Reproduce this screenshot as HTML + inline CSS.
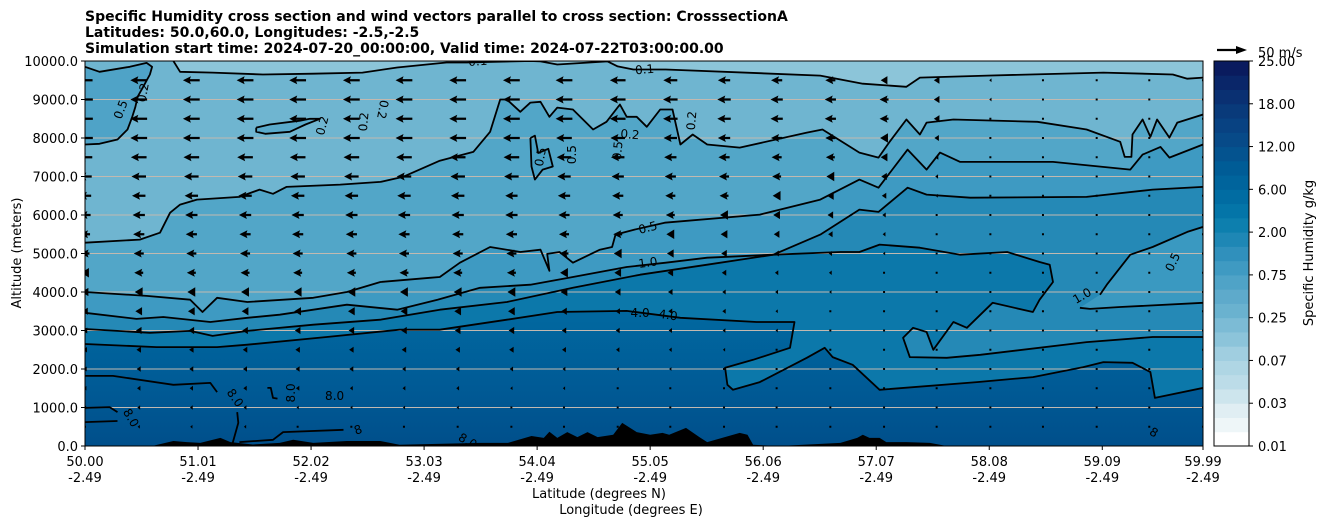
<!DOCTYPE html>
<html><head><meta charset="utf-8">
<style>
body{margin:0;background:#fff;width:1326px;height:526px;overflow:hidden}
svg{display:block;font-family:"DejaVu Sans","Liberation Sans",sans-serif}
</style></head>
<body>
<svg id="chart" width="1326" height="526" viewBox="0 0 1326 526" xmlns="http://www.w3.org/2000/svg">
<defs>
<clipPath id="plotclip"><rect x="85" y="61" width="1118" height="385"/></clipPath>
<linearGradient id="lowgrad" gradientUnits="userSpaceOnUse" x1="0" y1="320" x2="0" y2="446">
<stop offset="0" stop-color="#01679f"/><stop offset="0.5" stop-color="#005b96"/><stop offset="1" stop-color="#004f8b"/>
</linearGradient>
</defs>
<g font-size="14" font-weight="bold" fill="#000">
<text x="85" y="21">Specific Humidity cross section and wind vectors parallel to cross section: CrosssectionA</text>
<text x="85" y="37">Latitudes: 50.0,60.0, Longitudes: -2.5,-2.5</text>
<text x="85" y="53">Simulation start time: 2024-07-20_00:00:00, Valid time: 2024-07-22T03:00:00.00</text>
</g>
<g id="fills" clip-path="url(#plotclip)"></g>
<g id="grid"></g>
<g id="lines" clip-path="url(#plotclip)"></g>
<g id="clabels" clip-path="url(#plotclip)" font-size="12" fill="#000"></g>
<g id="arrows" clip-path="url(#plotclip)"></g>
<rect x="85" y="61" width="1118" height="385" fill="none" stroke="#000" stroke-width="1"/>
<g id="xaxis" font-size="13"></g>
<g id="yaxis" font-size="13"></g>
<text x="599" y="498" font-size="13" text-anchor="middle">Latitude (degrees N)</text>
<text x="631" y="514" font-size="13" text-anchor="middle">Longitude (degrees E)</text>
<text transform="translate(21,253) rotate(-90)" font-size="13" text-anchor="middle">Altitude (meters)</text>
<g id="cbar" font-size="13"></g>
<text transform="translate(1313,253) rotate(-90)" font-size="13" text-anchor="middle">Specific Humidity g/kg</text>
<g>
<line x1="1217" y1="50" x2="1238" y2="50" stroke="#000" stroke-width="2.2"/>
<polygon points="1247,50 1236,46 1236,54" fill="#000"/>
<text x="1258" y="57" font-size="13">50 m/s</text>
</g>
</svg>
<script>
// ---- data ----
const xTickLats = [50.00,51.01,52.02,53.03,54.04,55.05,56.06,57.07,58.08,59.09,59.99];
const xTickLabels = ["50.00","51.01","52.02","53.03","54.04","55.05","56.06","57.07","58.08","59.09","59.99"];
const xTickLons = ["-2.49","-2.49","-2.49","-2.49","-2.49","-2.49","-2.49","-2.49","-2.49","-2.49","-2.49"];
const yTickAlts = [0,1000,2000,3000,4000,5000,6000,7000,8000,9000,10000];
const cbarTickLabels = ["0.01","0.03","0.07","0.25","0.75","2.00","6.00","12.00","18.00","25.00"];
const cbarTickLevelIdx = [0,3,6,9,12,15,18,21,24,27];
const cbarBandColors = ["#ffffff","#eef6f8","#e0eef3","#cde5ed","#bcdce8","#afd6e4","#a0cee0","#8cc4da","#7cbbd5","#6ab2cf","#5eaacb","#4fa3c7","#3f9ac2","#3090bc","#1e87b5","#0d7fae","#0475a8","#016ca2","#00649c","#005c96","#04538f","#074a88","#084282","#093a7a","#0a3072","#0a2669","#0a1b5e"];

// contour lines: [lat, altitude m]
const c01 = [[50.79,10000],[50.85,9720],[51.14,9700],[51.59,9650],[52.04,9670],[52.48,9700],[52.79,9830],[53.23,9960],[53.41,9960],[53.98,10000],[54.07,9990],[54.22,9910],[54.67,9990],[54.76,9860],[54.90,9780],[55.19,9780],[56.57,9620],[56.95,9410],[57.34,9330],[57.46,9570],[58.06,9620],[59.10,9700],[59.72,9650],[59.85,9540],[59.99,9570]];
const c02pocket = [[50.00,9850],[50.13,9720],[50.40,9850],[50.55,9950],[50.60,9850],[50.58,9650],[50.52,9330],[50.47,9070],[50.45,8810],[50.42,8530],[50.38,8220],[50.29,7960],[50.13,7850],[50.00,7830]];
const c02 = [[50.00,5280],[50.49,5360],[50.67,5540],[50.76,6060],[50.85,6270],[51.00,6400],[51.38,6470],[51.56,6660],[51.68,6550],[51.80,6730],[52.28,6790],[52.64,6860],[52.84,6990],[53.17,7410],[53.47,7640],[53.62,8160],[53.71,9000],[53.77,9000],[53.89,8680],[53.98,8920],[54.07,8940],[54.15,8550],[54.22,8790],[54.36,8740],[54.54,8220],[54.66,8420],[54.78,8870],[54.84,8550],[54.93,8550],[55.02,8290],[55.14,8740],[55.25,8740],[55.32,7830],[55.43,8090],[55.56,7830],[55.85,7750],[56.45,8140],[56.59,8220],[56.92,7620],[57.09,7490],[57.19,7900],[57.34,8480],[57.46,8090],[57.52,8400],[57.76,8480],[58.51,8420],[58.95,8220],[59.25,7900],[59.29,7510],[59.35,7510],[59.36,8090],[59.45,8480],[59.52,8030],[59.58,8480],[59.69,8010],[59.76,8400],[59.99,8610]];
const c02loop = [[51.53,8270],[51.65,8350],[51.92,8450],[52.01,8500],[52.10,8500],[51.97,8350],[51.83,8160],[51.61,8110],[51.53,8160],[51.53,8270]];
const c05loop = [[53.98,8000],[54.02,8060],[54.05,7610],[54.14,7720],[54.18,7260],[54.09,7180],[54.02,6920],[53.99,7260],[53.98,8000]];
const c05 = [[50.00,4000],[50.55,3900],[50.94,3800],[51.05,3480],[51.18,3850],[51.45,3740],[52.04,3850],[52.34,4000],[52.64,4260],[53.08,4370],[53.17,4390],[53.35,4760],[53.62,5170],[53.89,5040],[54.07,5100],[54.15,4550],[54.13,4990],[54.24,5040],[54.36,4760],[54.60,5100],[54.71,5170],[54.74,5490],[54.91,5620],[55.18,5800],[56.03,6010],[56.57,6400],[56.92,6920],[57.09,6710],[57.35,7700],[57.52,7180],[57.64,7620],[57.82,7380],[58.65,7380],[59.34,7180],[59.45,7570],[59.61,7770],[59.69,7490],[59.99,7830]];
const c10 = [[50.00,3460],[50.46,3300],[50.70,3350],[51.12,3220],[51.45,3330],[51.74,3410],[52.34,3670],[52.79,3540],[53.15,3800],[53.53,4110],[53.98,4190],[54.36,4390],[54.84,4650],[55.19,4760],[55.56,4890],[56.15,4970],[56.57,5490],[56.92,6140],[57.09,6080],[57.35,6710],[57.52,6530],[57.91,6450],[58.95,6470],[59.54,6660],[59.99,6730]];
const c05right = [[59.07,3930],[59.13,4190],[59.34,4970],[59.54,5170],[59.85,5560],[59.99,5690]];
const c10right = [[58.89,3590],[58.98,3560],[59.25,3610],[59.99,3720]];
const c20 = [[50.00,3040],[50.58,2940],[50.94,2990],[51.14,2860],[51.45,2990],[52.04,3150],[52.64,3280],[53.17,3540],[53.77,3740],[54.36,4110],[54.96,4450],[55.56,4710],[56.15,4970],[56.75,5040],[56.92,5040],[57.10,5230],[57.46,5150],[57.82,4970],[58.24,5040],[58.53,4780],[58.62,4710],[58.65,4260],[58.53,3800],[58.47,3480],[58.11,3720],[57.88,3070],[57.76,3220],[57.58,2500],[57.52,2960],[57.40,3070],[57.31,2810],[57.37,2310],[57.70,2290],[58.00,2370],[58.95,2700],[59.54,2830],[59.99,2830]];
const c40 = [[50.00,2650],[50.64,2570],[51.18,2570],[51.45,2630],[52.16,2830],[52.81,3020],[53.17,3020],[53.77,3280],[54.22,3480],[54.84,3510],[55.32,3330],[56.00,3220],[56.34,3220],[56.30,2550],[55.97,2240],[55.72,2030],[55.74,1590],[55.79,1460],[56.03,1660],[56.45,2290],[56.61,2550],[56.68,2310],[56.86,2110],[57.10,1460],[57.97,1660],[58.47,1790],[58.92,2050],[59.10,2180],[59.36,2160],[59.52,1920],[59.56,1250],[59.99,1510]];
const c80a = [[50.00,1820],[50.25,1820],[50.79,1590],[51.12,1640],[51.18,1400]];
const c80b = [[50.00,990],[50.22,1010],[50.29,880]];
const c80c = [[50.00,620],[50.29,650]];
const c80d = [[51.36,880],[51.37,600],[51.32,80]];
const c80e = [[51.38,100],[51.68,160],[51.77,360],[52.31,420]];
const c80f = [[51.63,1510],[51.66,1510],[51.68,1250],[51.72,1230]];
const terrain = [[50.00,0],[50.60,0],[50.79,130],[50.91,100],[51.03,80],[51.21,210],[51.30,100],[51.50,40],[51.74,80],[51.86,160],[52.04,80],[52.34,130],[52.64,130],[52.81,30],[53.53,80],[53.78,80],[53.99,260],[54.10,210],[54.15,370],[54.22,210],[54.31,360],[54.40,230],[54.49,360],[54.58,230],[54.72,290],[54.80,600],[54.93,360],[55.05,290],[55.16,340],[55.22,290],[55.37,470],[55.49,230],[55.56,100],[55.85,340],[55.92,290],[55.97,30],[56.20,0],[56.75,80],[56.90,210],[56.95,290],[57.01,210],[57.10,210],[57.16,100],[57.34,100],[57.55,80],[57.70,0],[59.99,0]];
const contourLabels = [["0.1",53.51,9990,-4],["0.1",55.00,9780,-5],["0.2",50.52,9180,-80],["0.5",50.32,8740,-70],["0.2",52.12,8320,-75],["0.2",52.49,8420,-85],["0.2",52.66,8740,100],["0.5",54.07,7510,-80],["0.5",54.35,7570,-90],["0.5",54.76,7670,-85],["0.2",54.87,8090,5],["0.2",55.42,8450,-85],["0.5",55.03,5670,-15],["1.0",55.03,4760,-8],["4.0",54.96,3460,0],["4.0",55.21,3400,8],["1.0",58.91,3900,-30],["0.5",59.72,4780,-65],["8.0",50.41,730,60],["8.0",51.34,1250,55],["8.0",51.84,1380,-90],["8.0",52.23,1300,0],["8",52.44,420,-20],["8.0",53.42,130,30],["8",59.55,350,30]];

// wind (westward speed, m/s) rows from 9500 m down to 500 m
const windRowAlts = [9500,9000,8500,8000,7500,7000,6500,6000,5500,5000,4500,4000,3500,3000,2500,2000,1500,1000,500];
const windColLats = [50.00,50.48,50.95,51.43,51.90,52.38,52.85,53.33,53.81,54.28,54.76,55.23,55.71,56.18,56.66,57.14,57.61,58.09,58.56,59.04,59.51,59.99];
const windSpeed = [
[27,30,30,30,30,30,30,30,30,30,28,25,22,20,18,12,10,4,1,1,1,1],
[28,30,30,30,30,30,30,30,30,30,28,26,24,22,20,16,10,4,1,1,1,1],
[28,30,30,30,30,30,30,30,30,30,28,26,24,22,20,16,10,3,1,1,1,1],
[28,30,30,30,30,30,30,30,30,28,26,24,22,20,18,14,8,3,1,1,1,1],
[26,28,28,28,28,28,28,28,28,26,24,22,20,18,16,12,6,2,1,1,1,1],
[24,26,26,26,26,26,26,26,26,24,22,20,18,16,14,10,5,2,1,1,1,1],
[22,24,24,24,24,24,24,24,22,22,20,18,16,14,12,8,4,2,1,1,1,1],
[20,22,22,22,22,22,22,22,22,20,18,16,14,12,10,6,3,2,1,1,1,1],
[18,20,20,20,20,20,20,20,20,18,16,14,12,10,8,5,3,2,1,1,1,1],
[16,18,18,18,18,18,18,18,18,16,14,12,10,8,6,4,2,2,1,1,1,1],
[14,16,16,16,16,16,16,16,16,14,12,10,8,6,5,3,2,1,1,1,1,1],
[12,14,14,14,14,14,14,14,14,12,10,8,6,5,4,2,2,1,1,1,1,1],
[10,12,12,12,12,12,12,12,12,10,8,7,6,4,3,2,2,1,1,1,1,1],
[8,10,10,10,10,10,10,10,10,8,7,6,5,4,3,2,1,1,1,1,1,1],
[7,8,8,8,8,8,8,8,8,7,6,5,4,3,2,2,1,1,1,1,1,1],
[6,7,7,7,7,7,6,6,6,5,4,4,3,2,2,1,1,1,1,1,1,1],
[5,6,6,6,6,5,5,5,4,4,3,3,2,2,1,1,1,1,1,1,1,1],
[4,5,5,5,4,4,4,4,3,3,2,2,2,1,1,1,1,1,1,1,1,1],
[3,4,4,4,3,3,3,3,2,2,2,1,1,1,1,1,1,1,1,1,1,1]];

// ---- rendering ----
const NS = 'http://www.w3.org/2000/svg';
const X = lat => 85 + (lat - 50) / 9.99 * 1118;
const Y = alt => 446 - alt / 10000 * 385;
function el(tag, parent) { const e = document.createElementNS(NS, tag); parent.appendChild(e); return e; }
function pathD(pts) { return pts.map((p, i) => (i ? 'L' : 'M') + X(p[0]).toFixed(1) + ' ' + Y(p[1]).toFixed(1)).join(' '); }

const fills = document.getElementById('fills');
function fillBelow(pts, color, name) {
  const p = el('path', fills);
  
  
  p.setAttribute('d', pathD(pts) + ' L' + X(59.99) + ' ' + Y(0) + ' L' + X(50) + ' ' + Y(0) + ' Z');
  p.setAttribute('fill', color);
  p.setAttribute('fill-rule', 'evenodd');
}
function fillClosed(pts, color, name) {
  const p = el('path', fills);
  
  
  p.setAttribute('d', pathD(pts) + ' Z');
  p.setAttribute('fill', color);
}
const bg = el('rect', fills);


bg.setAttribute('x', 85); bg.setAttribute('y', 61); bg.setAttribute('width', 1118); bg.setAttribute('height', 385);
bg.setAttribute('fill', '#8cc5d9');
fillBelow([[50, 10000]].concat(c01), '#6fb5d0', 'band-0.1-0.2');
fillBelow(c02, '#52a6c8', 'band-0.2-0.5');
fillClosed(c02pocket.concat([[50, 7830]]), '#4fa3c7', 'band-pocket-left');
fillClosed(c02loop, '#5aaacb', 'band-loop-0.2');
fillBelow(c05, '#3e9ac2', 'band-0.5-1.0');
fillClosed(c05loop, '#48a0c5', 'band-loop-0.5');
fillBelow(c10, '#2589b6', 'band-1.0-2.0');
fillClosed(c05right.concat(c10right.slice().reverse()), '#3a99c1', 'band-right-pocket');
fillBelow(c20, '#0c78aa', 'band-2.0-4.0');
fillBelow(c40, 'url(#lowgrad)', 'band-above-4.0');
const terr = el('path', fills);


terr.setAttribute('d', pathD(terrain) + ' Z');
terr.setAttribute('fill', '#000');

// grid
const grid = document.getElementById('grid');
yTickAlts.forEach(a => {
  if (a === 0 || a === 10000) return;
  const l = el('line', grid);
  
  
  l.setAttribute('x1', 85); l.setAttribute('x2', 1203);
  l.setAttribute('y1', Y(a)); l.setAttribute('y2', Y(a));
  l.setAttribute('stroke', '#c2b9b0'); l.setAttribute('stroke-width', '1');
});

// contour lines
const lines = document.getElementById('lines');
[['contour-0.1', c01], ['contour-0.2-left', c02pocket], ['contour-0.2', c02], ['contour-0.2-loop', c02loop],
 ['contour-0.5', c05], ['contour-0.5-loop', c05loop], ['contour-1.0', c10], ['contour-0.5-right', c05right],
 ['contour-1.0-right', c10right], ['contour-2.0', c20], ['contour-4.0', c40], ['contour-8.0-a', c80a],
 ['contour-8.0-b', c80b], ['contour-8.0-c', c80c], ['contour-8.0-d', c80d], ['contour-8.0-e', c80e], ['contour-8.0-f', c80f]
].forEach(([name, pts]) => {
  const p = el('path', lines);
  
  
  p.setAttribute('d', pathD(pts));
  p.setAttribute('fill', 'none'); p.setAttribute('stroke', '#000'); p.setAttribute('stroke-width', '1.8');
  p.setAttribute('stroke-linejoin', 'round');
});

// contour labels
const cl = document.getElementById('clabels');
contourLabels.forEach(([t, lat, alt, ang]) => {
  const tx = el('text', cl);
  
  
  tx.setAttribute('transform', 'translate(' + X(lat).toFixed(1) + ',' + Y(alt).toFixed(1) + ') rotate(' + ang + ')');
  tx.setAttribute('text-anchor', 'middle');
  tx.setAttribute('dominant-baseline', 'central');
  tx.textContent = t;
});

// wind arrows (pivot middle, pointing west)
const ag = document.getElementById('arrows');
const pxPerMs = 28 / 50;
windRowAlts.forEach((alt, r) => {
  windColLats.forEach((lat, c) => {
    const s = windSpeed[r][c];
    const cx = X(lat), cy = Y(alt);
    const L = s * pxPerMs;
    const a = el('path', ag);
    
    
    let d;
    if (L < 2) {
      d = 'M' + (cx - 1) + ' ' + (cy - 1) + ' h2 v2 h-2 Z';
    } else if (L < 8) {
      const w = 4 * L / 8 + 0.8;
      const tip = cx - L / 2;
      d = 'M' + tip + ' ' + cy + ' L' + (tip + L) + ' ' + (cy - w) + ' L' + (tip + L) + ' ' + (cy + w) + ' Z';
    } else {
      const tip = cx - L / 2, tail = cx + L / 2, hl = 8, hw = 4, sw = 1.15;
      d = 'M' + tip + ' ' + cy + ' L' + (tip + hl) + ' ' + (cy - hw) + ' L' + (tip + hl - 1) + ' ' + (cy - sw) +
          ' L' + tail + ' ' + (cy - sw) + ' L' + tail + ' ' + (cy + sw) + ' L' + (tip + hl - 1) + ' ' + (cy + sw) +
          ' L' + (tip + hl) + ' ' + (cy + hw) + ' Z';
    }
    a.setAttribute('d', d);
    a.setAttribute('fill', '#000');
  });
});

// x axis
const xa = document.getElementById('xaxis');
xTickLats.forEach((lat, i) => {
  const x = X(lat);
  const t = el('line', xa);
  
  
  t.setAttribute('x1', x); t.setAttribute('x2', x); t.setAttribute('y1', 446); t.setAttribute('y2', 450);
  t.setAttribute('stroke', '#000');
  const l1 = el('text', xa);
  
  
  l1.setAttribute('x', x); l1.setAttribute('y', 466); l1.setAttribute('text-anchor', 'middle');
  l1.textContent = xTickLabels[i];
  const l2 = el('text', xa);
  
  
  l2.setAttribute('x', x); l2.setAttribute('y', 482); l2.setAttribute('text-anchor', 'middle');
  l2.textContent = xTickLons[i];
});

// y axis
const ya = document.getElementById('yaxis');
yTickAlts.forEach(a => {
  const y = Y(a);
  const t = el('line', ya);
  
  
  t.setAttribute('x1', 81); t.setAttribute('x2', 85); t.setAttribute('y1', y); t.setAttribute('y2', y);
  t.setAttribute('stroke', '#000');
  const l = el('text', ya);
  
  
  l.setAttribute('x', 78); l.setAttribute('y', y + 5); l.setAttribute('text-anchor', 'end');
  l.textContent = a.toFixed(1);
});

// colorbar
const cb = document.getElementById('cbar');
const cbTop = 61, cbBot = 446, cbX = 1214, cbW = 35;
const nb = cbarBandColors.length;
const bh = (cbBot - cbTop) / nb;
cbarBandColors.forEach((col, i) => {
  const r = el('rect', cb);
  
  
  r.setAttribute('x', cbX); r.setAttribute('width', cbW);
  r.setAttribute('y', (cbBot - (i + 1) * bh).toFixed(2)); r.setAttribute('height', (bh + 0.5).toFixed(2));
  r.setAttribute('fill', col);
});
const cbf = el('rect', cb);


cbf.setAttribute('x', cbX); cbf.setAttribute('y', cbTop); cbf.setAttribute('width', cbW); cbf.setAttribute('height', cbBot - cbTop);
cbf.setAttribute('fill', 'none'); cbf.setAttribute('stroke', '#000'); cbf.setAttribute('stroke-width', '1');
cbarTickLabels.forEach((lab, i) => {
  const y = cbBot - cbarTickLevelIdx[i] * bh;
  const t = el('line', cb);
  
  
  t.setAttribute('x1', cbX + cbW); t.setAttribute('x2', cbX + cbW + 4); t.setAttribute('y1', y); t.setAttribute('y2', y);
  t.setAttribute('stroke', '#000');
  const l = el('text', cb);
  
  
  l.setAttribute('x', 1258); l.setAttribute('y', y + 5);
  l.textContent = lab;
});
</script>
</body></html>
